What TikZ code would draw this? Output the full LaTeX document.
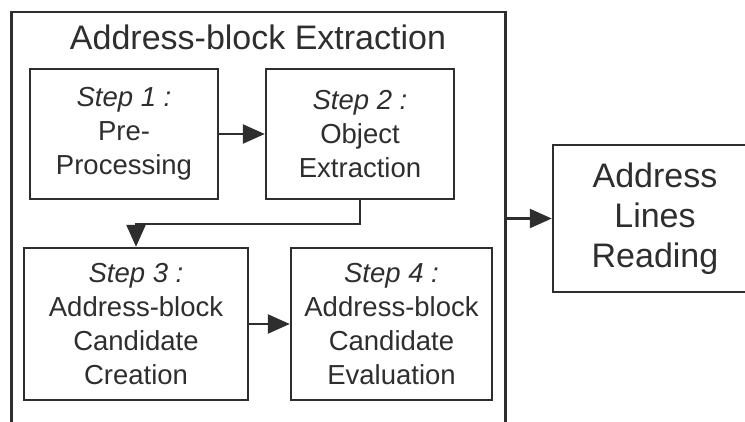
\documentclass[tikz,border=0pt]{standalone}
\usepackage{fontspec}
\setmainfont{Liberation Sans}
\usetikzlibrary{arrows.meta}
\definecolor{ink}{HTML}{2E2E2E}
\tikzset{
  box/.style={draw=ink, line width=2.4pt, rectangle, inner sep=0pt, align=center,
    text=ink, font=\fontsize{27.5}{34}\selectfont},
  bigbox/.style={box, font=\fontsize{34}{40}\selectfont},
  flow/.style={draw=ink, line width=2.4pt, -{Triangle[length=22pt,width=19pt]}},
}
\begin{document}
\begin{tikzpicture}[x=1pt, y=-1pt]
  \useasboundingbox (0,0) rectangle (745,421);
  \clip (0,0) rectangle (745,421);
  % outer frame; its lower edge lies below the page
  \node[box, minimum width=494pt, minimum height=430pt] (outer) at (258.5,227) {};
  \node[anchor=base, text=ink, font=\fontsize{34}{40}\selectfont] (title) at (258,49) {Address-block Extraction};
  % the four steps
  \node[box, minimum width=188pt, minimum height=130pt] (b1) at (124,134)
    {\textit{Step 1 :}\\Pre-\\Processing};
  \node[box, minimum width=188pt, minimum height=130pt] (b2) at (360,134)
    {\textit{Step 2 :}\\Object\\Extraction};
  \node[box, minimum width=224pt, minimum height=152pt] (b3) at (136,324)
    {\textit{Step 3 :}\\Address-block\\Candidate\\Creation};
  \node[box, minimum width=201pt, minimum height=152pt] (b4) at (391.5,324)
    {\textit{Step 4 :}\\Address-block\\Candidate\\Evaluation};
  % following stage, cut by the right edge
  \node[bigbox, minimum width=204pt, minimum height=147pt] (b5) at (655,218.5)
    {Address\\Lines\\Reading};
  % connectors
  \draw[flow] (b1) -- (b2);
  \draw[flow] (b2.south) -- ++(0,24) -| (b3.north);
  \draw[flow] (b3) -- (b4);
  \draw[flow] (outer.east |- b5.west) -- (b5.west);
\end{tikzpicture}
\end{document}
